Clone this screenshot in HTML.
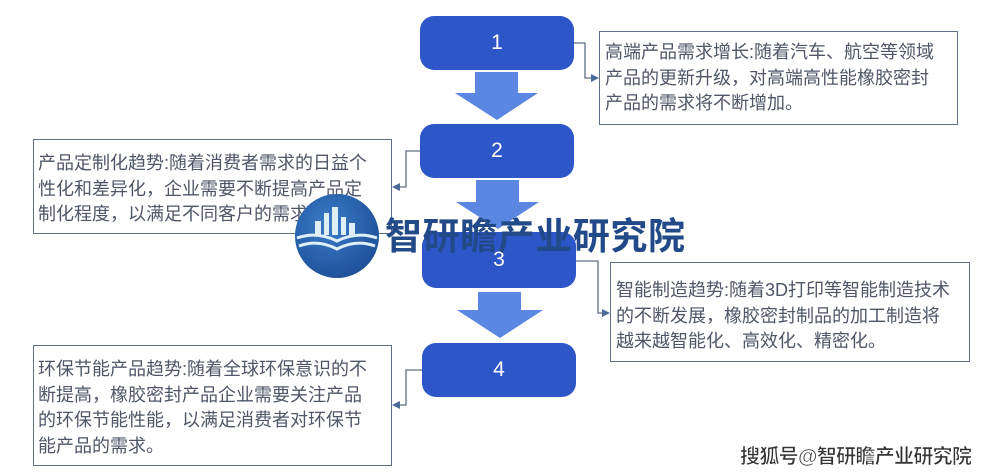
<!DOCTYPE html>
<html><head><meta charset="utf-8"><style>
body{margin:0;background:#fff;}
.c{position:relative;width:994px;height:476px;overflow:hidden;font-family:"Liberation Sans","Noto Sans CJK SC",sans-serif;}
.b{position:absolute;background:#2d56c8;border-radius:14px;color:#fff;font-size:21px;display:flex;align-items:center;justify-content:center;}
.t{position:absolute;border:1.3px solid #5f6f85;background:#fff;color:#4e5668;font-size:18px;line-height:25.5px;padding:10px 0 0 5px;box-sizing:border-box;white-space:nowrap;}
</style></head><body><div class="c">
<svg width="994" height="476" style="position:absolute;left:0;top:0">
<g fill="#5b86e2">
<polygon points="475,72 518,72 518,93 538,93 497,120 455,93 475,93"/>
<polygon points="476,180 519,180 519,202 539,202 498,229 456,202 476,202"/>
<polygon points="478,292 521,292 521,310 543,310 500,338 457,310 478,310"/>
</g>
<g stroke="#5f6f85" stroke-width="1.3" fill="none">
<polyline points="574,43 585,43 585,78 597,78"/>
<polyline points="421,151 406,151 406,187 394,187"/>
<polyline points="575,261 598,261 598,313 606,313"/>
<polyline points="422,370 406,370 406,405 394,405"/>
</g>
<g fill="#4a6a9a">
<polygon points="599,78 591,74 591,82"/>
<polygon points="392,187 400,183 400,191"/>
<polygon points="610,313 602,309 602,317"/>
<polygon points="392,405 400,401 400,409"/>
</g>
</svg>
<div class="b" style="left:420px;top:16px;width:154px;height:54px">1</div>
<div class="b" style="left:420px;top:124px;width:154px;height:54px">2</div>
<div class="b" style="left:422px;top:232px;width:154px;height:56px">3</div>
<div class="b" style="left:422px;top:343px;width:154px;height:54px">4</div>
<div class="t" style="left:599px;top:31px;width:359px;height:94px;padding-top:8px">高端产品需求增长:随着汽车、航空等领域<br>产品的更新升级，对高端高性能橡胶密封<br>产品的需求将不断增加。</div>
<div class="t" style="left:33px;top:139px;width:359px;height:95px;padding-top:11px;padding-left:4px">产品定制化趋势:随着消费者需求的日益个<br>性化和差异化，企业需要不断提高产品定<br>制化程度，以满足不同客户的需求。</div>
<div class="t" style="left:610px;top:262px;width:360px;height:100px;padding-top:15px">智能制造趋势:随着3D打印等智能制造技术<br>的不断发展，橡胶密封制品的加工制造将<br>越来越智能化、高效化、精密化。</div>
<div class="t" style="left:33px;top:345px;width:359px;height:121px;padding-top:11px;padding-left:4px">环保节能产品趋势:随着全球环保意识的不<br>断提高，橡胶密封产品企业需要关注产品<br>的环保节能性能，以满足消费者对环保节<br>能产品的需求。</div>
<svg width="994" height="476" style="position:absolute;left:0;top:0">
<defs><radialGradient id="g" cx="0.4" cy="0.35" r="0.7"><stop offset="0" stop-color="#3b7cc8"/><stop offset="1" stop-color="#1d4f98"/></radialGradient></defs>
<circle cx="337" cy="236" r="42" fill="url(#g)"/>
<g fill="#dfeff7"><rect x="315" y="221" width="6" height="14"/><rect x="324" y="213" width="5" height="22"/><rect x="332" y="207" width="6" height="28"/><rect x="341" y="217" width="5" height="18"/><rect x="349" y="223" width="6" height="12"/></g>
<g stroke="#dfeff7" stroke-width="3" fill="none"><path d="M297 238 Q317 231 337 241 Q357 231 377 238"/><path d="M299 246 Q318 239 337 249 Q356 239 375 246"/></g>
<text x="385" y="249" font-family="Liberation Sans,Noto Sans CJK SC,sans-serif" font-size="37" font-weight="bold" fill="#234a88" textLength="300">智研瞻产业研究院</text>
<text x="740" y="463" font-family="Liberation Sans,Noto Sans CJK SC,sans-serif" font-size="20" font-weight="bold" fill="#333" stroke="#fff" stroke-width="0.6" textLength="232">搜狐号@智研瞻产业研究院</text>
</svg>
</div></body></html>
